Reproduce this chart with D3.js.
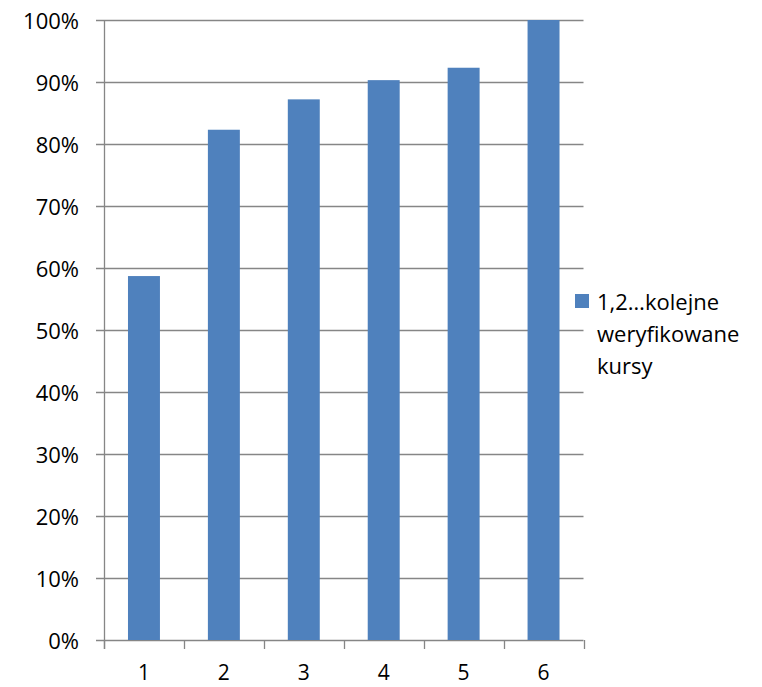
<!DOCTYPE html>
<html>
<head>
<meta charset="utf-8">
<script src="https://cdn.jsdelivr.net/npm/d3@7"></script>
<style>
  html, body { margin: 0; padding: 0; background: #fff; }
  svg { display: block; }
  text { font-family: "Open Sans", "Noto Sans", sans-serif; fill: #000; }
</style>
</head>
<body>
<svg id="chart" width="762" height="687"></svg>
<script>
const categories = ["1", "2", "3", "4", "5", "6"];
const values = [0.587, 0.823, 0.872, 0.903, 0.923, 1.0];
const yTicks = [0, 0.1, 0.2, 0.3, 0.4, 0.5, 0.6, 0.7, 0.8, 0.9, 1.0];
const seriesName = ["1,2\u2026kolejne", "weryfikowane", "kursy"];

(function () {
const svg = d3.select("#chart");
const mLeft = 104, mRight = 583.5, mTop = 20, mBottom = 640;
const gridColor = "#868686";
const barColor = "#4F81BD";

const x = d3.scaleBand().domain(categories).range([mLeft, mRight]).padding(0);
const y = d3.scaleLinear().domain([0, 1]).range([mBottom, mTop]);

// gridlines (with left tick)
svg.append("g").selectAll("line").data(yTicks).join("line")
  .attr("x1", mLeft - 8).attr("x2", mRight)
  .attr("y1", d => Math.round(y(d)) + 0.5).attr("y2", d => Math.round(y(d)) + 0.5)
  .attr("stroke", gridColor).attr("stroke-width", 1.3);

// y labels
svg.append("g").selectAll("text").data(yTicks).join("text")
  .attr("x", 79).attr("y", d => y(d))
  .attr("text-anchor", "end").attr("dominant-baseline", "central")
  .attr("font-size", 22)
  .text(d3.format(".0%"));

// bars
const bw = x.bandwidth() * 0.4;
svg.append("g").selectAll("rect").data(values).join("rect")
  .attr("x", (d, i) => x(categories[i]) + x.bandwidth() / 2 - bw / 2)
  .attr("width", bw)
  .attr("y", d => y(d))
  .attr("height", d => y(0) - y(d))
  .attr("fill", barColor);

// y axis line
svg.append("line").attr("x1", mLeft + 0.5).attr("x2", mLeft + 0.5)
  .attr("y1", mTop).attr("y2", mBottom + 9)
  .attr("stroke", gridColor).attr("stroke-width", 1.3);

// x ticks
const xTickPos = categories.map(c => x(c)).concat([x(categories[categories.length - 1]) + x.bandwidth()]);
svg.append("g").selectAll("line").data(xTickPos).join("line")
  .attr("x1", d => Math.round(d) + 0.5).attr("x2", d => Math.round(d) + 0.5)
  .attr("y1", mBottom).attr("y2", mBottom + 9)
  .attr("stroke", gridColor).attr("stroke-width", 1.3);

// x labels
svg.append("g").selectAll("text").data(categories).join("text")
  .attr("x", d => x(d) + x.bandwidth() / 2).attr("y", 680)
  .attr("text-anchor", "middle")
  .attr("font-size", 21)
  .text(d => d);

// legend
svg.append("rect").attr("x", 575).attr("y", 294).attr("width", 14).attr("height", 14).attr("fill", barColor);
svg.append("g").selectAll("text").data(seriesName).join("text")
  .attr("x", 597).attr("y", (d, i) => 301 + i * 32)
  .attr("dominant-baseline", "central")
  .attr("font-size", 22)
  .text(d => d);
})();
</script>
</body>
</html>
